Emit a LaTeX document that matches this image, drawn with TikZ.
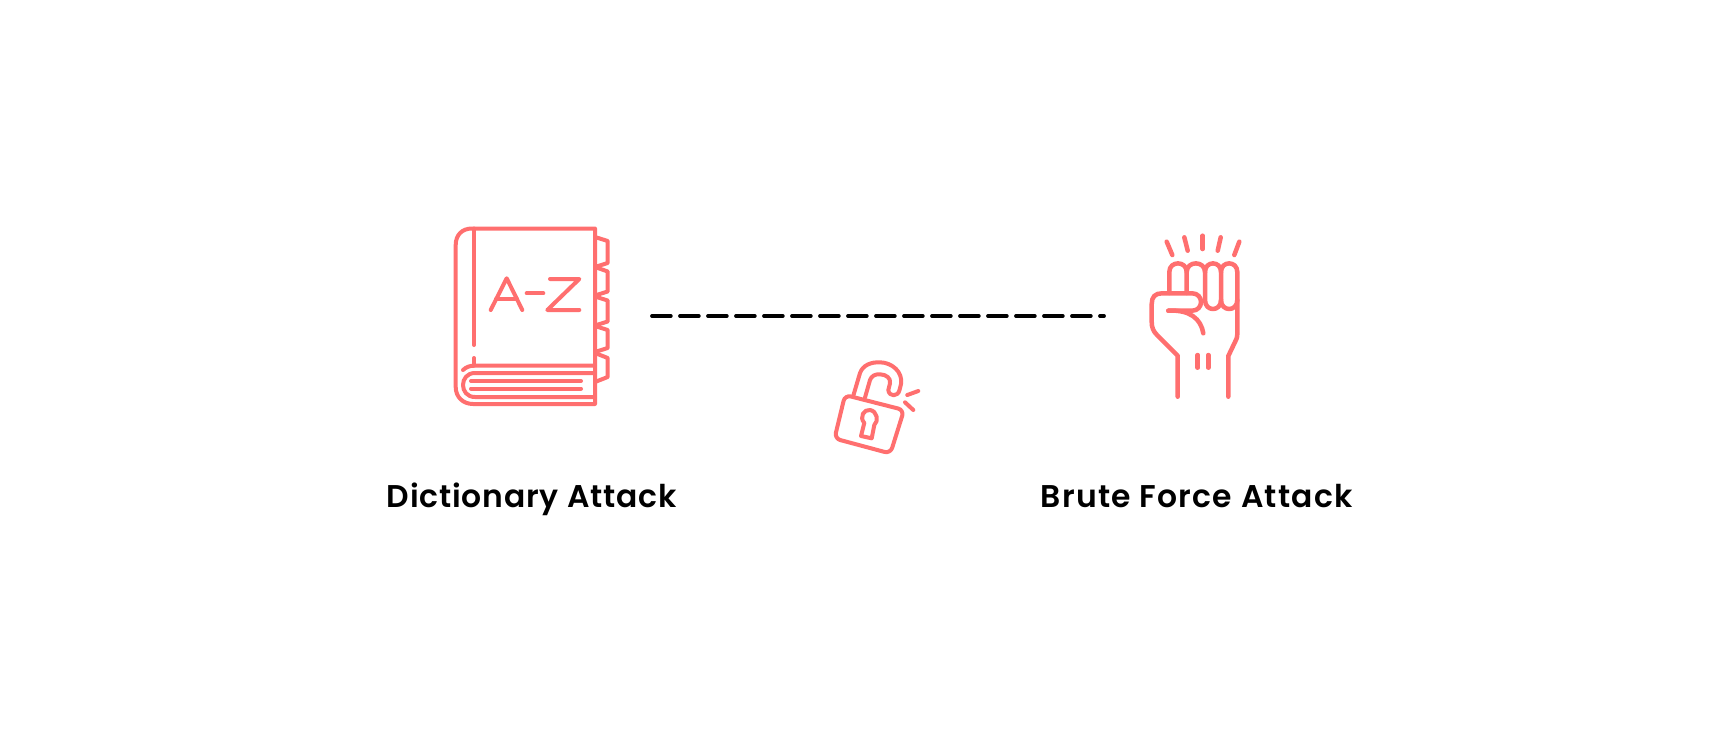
\documentclass[tikz,border=0pt]{standalone}
\usepackage{fontspec}
\setmainfont{Poppins}
\newfontfamily\labelfont[LetterSpace=2.5]{Poppins SemiBold}
\newfontfamily\labelfontwide[LetterSpace=4]{Poppins SemiBold}
\definecolor{coral}{HTML}{FF6F6F}
\tikzset{
  icon/.style={draw=coral,line width=2pt,line cap=round,line join=round},
  heavyicon/.style={icon,line width=2.25pt},
  labeltext/.style={anchor=base,inner sep=0pt,text=black,font=\labelfont\fontsize{15.7}{18}\selectfont},
  widelabeltext/.style={labeltext,font=\labelfontwide\fontsize{15.7}{18}\selectfont},
  linkline/.style={draw=black,line width=1.9pt,line cap=round,dash pattern=on 9.4pt off 4.6pt}
}
\begin{document}
\begin{tikzpicture}[x=0.5pt,y=-0.5pt]
\useasboundingbox (0,0) rectangle (1728,744);
\fill[white] (0,0) rectangle (1728,744);
% book
\draw[icon] (595,228.5) -- (474,228.5) -- (472,228.5) .. controls (462,228.5) and (455.7,235) .. (455.7,245) -- (455.7,387) .. controls (455.7,397) and (463,404) .. (473,404) -- (595,404) -- cycle;
\draw[icon] (474,228.5) -- (474,345);
\draw[icon] (474,358) -- (474,365.7);
\draw[icon] (463,370) .. controls (466,367) and (470,365.7) .. (474,365.7) -- (595,365.7);
\draw[icon] (595,373) -- (475,373) .. controls (459,373) and (459,397) .. (475,397) -- (595,397);
\draw[icon] (471,381) -- (581,381);
\draw[icon] (471,388.5) -- (581,388.5);
\draw[icon] (595,237) -- (607.7,241) -- (607.7,263) -- (595,267);
\draw[icon] (595,267) -- (607.7,271.5) -- (607.7,291.5) -- (595,295.5);
\draw[icon] (595,296.5) -- (607.7,300.5) -- (607.7,321.5) -- (595,325.5);
\draw[icon] (595,326) -- (607.7,330) -- (607.7,348) -- (595,352);
\draw[icon] (595,353) -- (607.7,358) -- (607.7,377) -- (595,382);
\draw[icon] (490.7,310) -- (506.7,278.3) -- (522.3,310);
\draw[icon] (496,299) -- (517,299);
\draw[icon] (526.7,293.3) -- (543.3,293.3);
\draw[icon] (550,279) -- (579.3,279) -- (547.3,310) -- (579.3,310);
% fist
\draw[heavyicon] (1166.7,241.7) -- (1172.3,255);
\draw[heavyicon] (1184.3,237.3) -- (1187.7,250.7);
\draw[heavyicon] (1202.7,235.7) -- (1202.7,249);
\draw[heavyicon] (1220.7,237.3) -- (1217.7,250.7);
\draw[heavyicon] (1239.3,241.7) -- (1234.3,255);
\draw[heavyicon] (1169.3,293) -- (1169.3,272) .. controls (1169.3,260.5) and (1186.7,260.5) .. (1186.7,272) -- (1186.7,293);
\draw[heavyicon] (1186.7,272) .. controls (1186.7,260.5) and (1205,260.5) .. (1205,272) -- (1205,300) .. controls (1205,312) and (1221,312) .. (1221,300) -- (1221,272);
\draw[heavyicon] (1205,272) .. controls (1205,260.5) and (1221,260.5) .. (1221,272) .. controls (1221,260.5) and (1237.3,260.5) .. (1237.3,272) -- (1237.3,334) .. controls (1237.3,338) and (1236,340) .. (1235,342) -- (1228.3,356) -- (1228.3,396.7);
\draw[heavyicon] (1221,300) .. controls (1221,312) and (1237.3,312) .. (1237.3,300);
\draw[heavyicon] (1177.7,396.7) -- (1177.7,355.7) -- (1157,335) .. controls (1153,331) and (1151.7,327) .. (1151.7,322) -- (1151.7,304) .. controls (1151.7,297) and (1155,293.3) .. (1162,293.3) -- (1192,293.3) .. controls (1204,293.3) and (1204,310.7) .. (1192,310.7) -- (1168.3,310.7);
\draw[heavyicon] (1168.3,310.7) .. controls (1190,309.5) and (1201,319) .. (1203.3,333.3);
\draw[heavyicon] (1197.7,355) -- (1197.7,367.7);
\draw[heavyicon] (1208.3,355) -- (1208.3,367.7);
% lock
\draw[icon,rounded corners=3pt] (845,395) -- (904,410) -- (890.4,453.5) -- (834.5,438.5) -- cycle;
\draw[icon] (853.3,395.7) -- (860,373) .. controls (863,365) and (871,362) .. (880,362.3) .. controls (892,362.5) and (903,372) .. (901,384) -- (899.5,390) .. controls (898,397) and (889,397) .. (888.3,390) -- (890,383.3) .. controls (891,378) and (886,374.5) .. (880,374.3) .. controls (875,374) and (871.5,376) .. (870,380) -- (865,397.5);
\draw[icon] (864.3,423) .. controls (859,417) and (864,409) .. (870,410) .. controls (877,411) and (879,421) .. (874.3,425) -- (871.7,438.3) -- (861,436) -- cycle;
\draw[icon] (907.3,395) -- (918.3,391);
\draw[icon] (905,402.3) -- (913.3,410);
% connector
\coordinate (linkstart) at (652,316);
\coordinate (linkend) at (1104,316);
\draw[linkline] (linkstart) -- (linkend);
% labels
\node[labeltext] (dict) at (531.7,507) {Dictionary Attack};
\node[widelabeltext] (brute) at (1196.7,507) {Brute Force Attack};
\end{tikzpicture}
\end{document}
